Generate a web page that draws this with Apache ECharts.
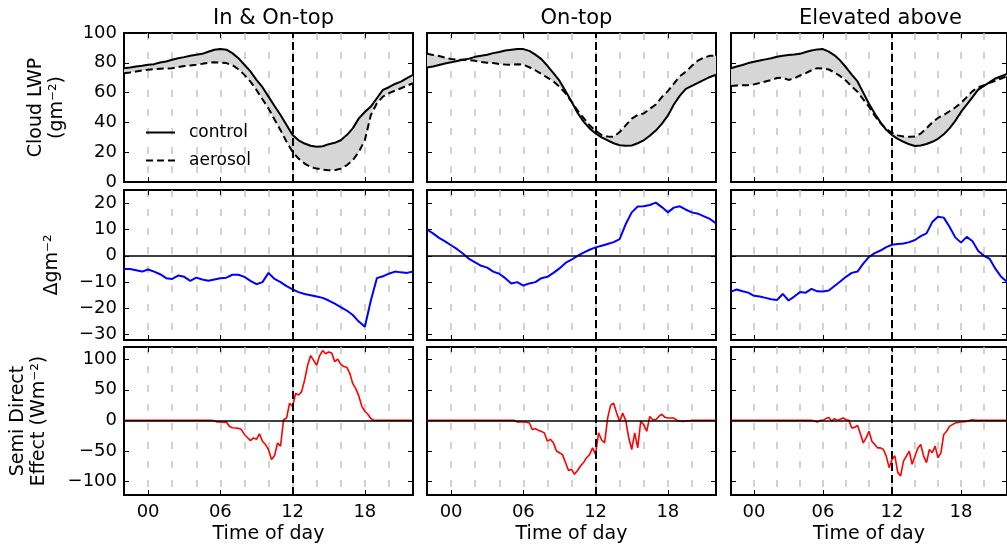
<!DOCTYPE html>
<html>
<head>
<meta charset="utf-8">
<script src="https://cdn.jsdelivr.net/npm/echarts@6/dist/echarts.min.js"></script>
<style>
html, body { margin: 0; padding: 0; background: #fff; }
#chart { width: 1007px; height: 550px; }
</style>
</head>
<body>
<div id="chart"></div>
<script>
// ---- data ----
var titles = ['In & On-top', 'On-top', 'Elevated above'];
var hourTicks = [0, 6, 12, 18];
var lwpTicks = [0, 20, 40, 60, 80, 100];
var deltaTicks = [-30, -20, -10, 0, 10, 20];
var sdeTicks = [-100, -50, 0, 50, 100];

var hours = [-2, -1.5, -1, -0.5, 0, 0.5, 1, 1.5, 2, 2.5, 3, 3.5, 4, 4.5, 5, 5.5, 6, 6.5, 7, 7.5,
	8, 8.5, 9, 9.5, 10, 10.5, 11, 11.5, 12, 12.5, 13, 13.5, 14, 14.5, 15, 15.5, 16, 16.5, 17, 17.5,
	18, 18.5, 19, 19.5, 20, 20.5, 21, 21.5, 22];

var lwpControlIn = [76.4, 76.9, 77.5, 78, 78.7, 79.1, 80.2, 80.9, 82, 83.1, 83.8, 84.7, 85.4, 86, 87.4, 88.8, 89.2, 88.8, 86.5, 83.1,
	78.7, 74.2, 68.5, 63.6, 57.3, 51, 45, 38.2, 31.5, 28, 25.8, 24.3, 23.6, 24, 25.4, 26.3, 28, 31.5, 36, 42.7,
	47, 50.6, 56.2, 61.8, 63.6, 65.8, 67.4, 69.7, 71.9];
var lwpAerosolIn = [73, 73.5, 74.2, 74.8, 75.3, 75.7, 76, 76.2, 76.4, 77.1, 77.8, 78.2, 78.7, 79.3, 80, 80.4, 80.2, 79.8, 78.4, 75.7,
	71.9, 67.4, 61.8, 55.5, 49.4, 42, 34.8, 27, 20.2, 15.7, 12.4, 10.1, 9, 8.3, 7.9, 7.9, 9, 11.2, 14.6, 20.2,
	28, 45, 52.8, 57.3, 59.6, 61.3, 62.9, 64.7, 66.3];
var lwpControlOn = [76.9, 77.5, 78.5, 79.5, 80.3, 81.2, 82, 82.8, 84, 84.8, 85.4, 86.5, 87.3, 88.3, 88.8, 89.3, 89.2, 88, 85.5, 82.5,
	78, 73, 68, 61, 54, 46.5, 40.5, 36, 32.6, 30, 28, 26, 24.7, 24.3, 24.5, 26, 28, 31, 34.5, 39,
	44.5, 52, 58, 62.5, 64.5, 66.5, 68.5, 70.5, 72];
var lwpAerosolOn = [86, 85.3, 84.5, 83.5, 82.5, 82, 82, 81.8, 81.3, 80.5, 80, 79.8, 79.2, 78.8, 78.7, 79, 78.7, 77, 75, 72.5,
	70, 67.5, 64, 59.5, 54, 48, 43, 38, 34.5, 31.5, 30.5, 30.3, 33.5, 38, 42.5, 45, 46, 49, 52, 57,
	61, 66, 71, 74, 78, 81.5, 83.5, 84.7, 84.7];
var lwpControlAbove = [76.4, 77.5, 78.5, 79.8, 80.7, 81.5, 82.3, 83, 84, 84.8, 85.2, 85.5, 86, 87.2, 88.3, 89, 89.2, 87.5, 85, 81.5,
	77, 72, 67.5, 60, 52.5, 46, 40, 35, 31.5, 29, 27, 25.3, 24.2, 24.5, 25.5, 27, 29, 32, 36, 41,
	47, 52, 57, 62, 64.5, 67, 69.5, 71, 72.5];
var lwpAerosolAbove = [64.5, 64.8, 65, 65, 65.5, 66.5, 67.5, 68.5, 69.8, 70, 68.5, 69.5, 71.5, 73, 75, 76.4, 76.2, 75.5, 73.5, 71,
	68, 64, 60.5, 55.5, 50.5, 44.5, 39.5, 35.5, 33, 31.3, 30.5, 30.3, 30.5, 32.5, 36, 40, 43, 45, 47.5, 50,
	53, 57, 61, 63.5, 65, 66.5, 68, 69.5, 71];

var deltaIn = [-5, -5, -5.5, -6, -5.2, -6, -7, -8.5, -8.8, -7.5, -8, -9.5, -8.3, -9, -9.5, -9, -8.5, -8.3, -7.2, -7.2,
	-8, -9.5, -10.8, -10, -6.5, -8.8, -10, -11.5, -12.8, -13.8, -14.5, -15, -15.5, -16, -17, -18.2, -19.5, -20.8, -22.5, -25,
	-27, -17, -8.5, -7.8, -6.8, -6, -6.3, -6.5, -6];
var deltaOn = [10, 8.5, 6.8, 5.5, 4, 2.5, 0.8, -1.2, -2.5, -3.8, -4.5, -6, -6.8, -8.5, -10.5, -10, -11.3, -10.5, -10, -8.5,
	-8, -6.5, -4.8, -2.7, -1.5, 0, 1.2, 2.3, 3.2, 3.8, 4.5, 5.2, 6.3, 12, 16.5, 18.7, 18.8, 19.3, 20.2, 18.5,
	16.5, 18.3, 18.8, 17.5, 16.5, 16, 15, 14, 12.3];
var deltaAbove = [-13.6, -12.8, -13.5, -14, -15.2, -15.5, -16, -16.5, -16.8, -14.5, -17, -15.5, -13.8, -14, -12.6, -13.5, -13.6, -13.2, -11.5, -9.8,
	-8, -6.5, -6, -3, -0.4, 1, 2, 3.3, 4.2, 4.5, 4.7, 5.2, 6, 7.5, 8.5, 12.8, 14.8, 14.5, 11, 7,
	5, 7.2, 5.5, 1.8, 0, -1.2, -5, -8, -10];

var sdeHours = [-2,
	5, 5.25, 5.5, 5.75, 6, 6.25, 6.5, 6.75, 7, 7.25, 7.5, 7.75, 8, 8.25, 8.5, 8.75,
	9, 9.25, 9.5, 9.75, 10, 10.25, 10.5, 10.75, 11, 11.25, 11.5, 11.75, 12, 12.25, 12.5, 12.75,
	13, 13.25, 13.5, 13.75, 14, 14.25, 14.5, 14.75, 15, 15.25, 15.5, 15.75, 16, 16.25, 16.5, 16.75,
	17, 17.25, 17.5, 17.75, 18, 18.25, 18.5, 18.75, 19, 19.25, 19.5, 19.75, 20,
	22];
var sdeIn = [0,
	0, 0, -0.5, -2.7, -2.5, -3, -2.7, -9.7, -12, -12.5, -13, -15, -23, -28, -33, -28.6,
	-31, -22, -34, -39.5, -47.6, -64, -58, -37, -42, 1, 3.8, 28, 22.7, 44, 41.6, 47,
	66, 90, 106, 98, 90, 106, 114, 109, 112, 110, 96, 100, 92, 88, 87, 77,
	60, 52, 40, 23, 15, 10, 3, 0, 0, 0, 0, 0, 0,
	0];
var sdeOn = [0,
	0, 0, -2.5, -2.7, -2.7, -3, -4.3, -15, -13.5, -16, -18, -20.5, -34, -31, -36.8, -50,
	-53, -56, -69, -82, -80, -88, -82, -74.6, -69, -61, -56, -45, -55.7, -20.5, -32, -36.8,
	3.8, 25, 28, 12, -1.6, 11.9, 0, -28, -47.6, -20.5, -45, -1.6, -7, -17.8, 6.5, 1,
	1, 6.5, 10, 5, 4, 3.8, 3.8, 0, -1, -1.6, -1, -0.5, 0,
	0];
var sdeAbove = [0,
	0, -1, -2.7, 0, 0, 3, 4.9, -1, 3, 0, 2, 4, 1, 0, -12.4, -11.4,
	-8, -22, -36.8, -28.6, -17.8, -34, -39.5, -45, -45, -47.6, -58.4, -77.3, -63.8, -58, -85, -90.8,
	-66.5, -58.4, -50.3, -71.9, -58.4, -45, -39.5, -58.4, -69, -47.6, -53, -42, -61, -53, -23, -17.8,
	-9.7, -7, -4.3, -3.5, -2.7, -2, -1.6, 0, 1, 0, 0, 0, 0,
	0];

var lwpControl = [lwpControlIn, lwpControlOn, lwpControlAbove];
var lwpAerosol = [lwpAerosolIn, lwpAerosolOn, lwpAerosolAbove];
var delta = [deltaIn, deltaOn, deltaAbove];
var sde = [sdeIn, sdeOn, sdeAbove];

// ---- layout ----
var FONT = 'DejaVu Sans';
var colLeft = [124, 427, 731];
var colWidth = 289;
var rowTop = [33, 190, 347];
var rowHeight = [149, 150, 148];
var rowMin = [0, -32, -122];
var rowMax = [100, 25, 120];
var rowTicks = [lwpTicks, deltaTicks, sdeTicks];
var rowNames = ['Cloud LWP\n(gm\u207b\u00b2)', '\u0394gm\u207b\u00b2', 'Semi Direct\nEffect (Wm\u207b\u00b2)'];
var rowNameGap = [56, 61, 74];

var chart = echarts.init(document.getElementById('chart'));

function fmtNum(v) { return v < 0 ? '\u2212' + (-v) : String(v); }
function fmtHour(v) { return (v < 10 ? '0' : '') + v; }
function pairs(xs, ys) {
	return xs.map(function (x, i) { return [x, ys[i]]; });
}
function bandRenderer(upper, lower) {
	return function (params, api) {
		var pts = [];
		var i;
		for (i = 0; i < hours.length; i++) pts.push(api.coord([hours[i], upper[i]]));
		for (i = hours.length - 1; i >= 0; i--) pts.push(api.coord([hours[i], lower[i]]));
		return { type: 'polygon', shape: { points: pts }, style: { fill: '#d6d6d6' } };
	};
}
function marks(withZero) {
	var d = [{ xAxis: 12, lineStyle: { color: '#000', width: 2, type: [8, 4] } }];
	if (withZero) d.push({ yAxis: 0, lineStyle: { color: '#000', width: 1.5, type: 'solid' } });
	return { silent: true, symbol: 'none', label: { show: false }, animation: false, data: d };
}

var grid = [], xAxis = [], yAxis = [], series = [], title = [];
var noLine = { show: false, onZero: false };

for (var r = 0; r < 3; r++) {
	for (var c = 0; c < 3; c++) {
		var g = r * 3 + c;
		grid.push({
			left: colLeft[c], top: rowTop[r], width: colWidth, height: rowHeight[r],
			show: true, borderColor: '#000', borderWidth: 2, backgroundColor: 'transparent'
		});
		// dashed grey lines every 2 h
		xAxis.push({
			type: 'value', gridIndex: g, min: -2, max: 22, interval: 2,
			axisLine: noLine, axisTick: { show: false }, axisLabel: { show: false },
			splitLine: { show: true, showMinLine: false, showMaxLine: false,
				lineStyle: { color: '#c4c4c4', width: 1.5, type: [7, 12] } }
		});
		xAxis.push({
			type: 'value', gridIndex: g, min: -2, max: 22, position: 'bottom',
			axisLine: noLine, splitLine: { show: false },
			axisTick: { show: true, inside: true, length: 5, customValues: hourTicks, lineStyle: { color: '#000' } },
			axisLabel: { show: r === 2, customValues: hourTicks, formatter: fmtHour, margin: 8,
				color: '#000', fontFamily: FONT, fontSize: 18 },
			name: r === 2 ? 'Time of day' : '', nameLocation: 'middle', nameGap: 30,
			nameTextStyle: { color: '#000', fontFamily: FONT, fontSize: 19 }
		});
		xAxis.push({
			type: 'value', gridIndex: g, min: -2, max: 22, position: 'top',
			axisLine: noLine, splitLine: { show: false }, axisLabel: { show: false },
			axisTick: { show: true, inside: true, length: 5, customValues: hourTicks, lineStyle: { color: '#000' } }
		});
		yAxis.push({
			type: 'value', gridIndex: g, min: rowMin[r], max: rowMax[r], position: 'left',
			axisLine: noLine, splitLine: { show: false },
			axisTick: { show: true, inside: true, length: 5, customValues: rowTicks[r], lineStyle: { color: '#000' } },
			axisLabel: { show: c === 0, customValues: rowTicks[r], formatter: fmtNum, margin: 7,
				color: '#000', fontFamily: FONT, fontSize: 18 },
			name: c === 0 ? rowNames[r] : '', nameLocation: 'middle', nameRotate: 90, nameGap: rowNameGap[r],
			nameTextStyle: { color: '#000', fontFamily: FONT, fontSize: 19, lineHeight: 21, align: 'center' }
		});
		yAxis.push({
			type: 'value', gridIndex: g, min: rowMin[r], max: rowMax[r], position: 'right',
			axisLine: noLine, splitLine: { show: false }, axisLabel: { show: false },
			axisTick: { show: true, inside: true, length: 5, customValues: rowTicks[r], lineStyle: { color: '#000' } }
		});

		var xi = g * 3 + 1, yi = g * 2;
		if (r === 0) {
			series.push({
				type: 'custom', xAxisIndex: xi, yAxisIndex: yi, silent: true, z: 1,
				renderItem: bandRenderer(lwpControl[c], lwpAerosol[c]),
				data: [[hours[0], lwpControl[c][0]]]
			});
			series.push({
				name: 'control', type: 'line', xAxisIndex: xi, yAxisIndex: yi, z: 3,
				symbol: 'none', data: pairs(hours, lwpControl[c]),
				lineStyle: { color: '#000', width: 2 }, itemStyle: { color: '#000' }
			});
			series.push({
				name: 'aerosol', type: 'line', xAxisIndex: xi, yAxisIndex: yi, z: 3,
				symbol: 'none', data: pairs(hours, lwpAerosol[c]),
				lineStyle: { color: '#000', width: 2, type: [7, 4] }, itemStyle: { color: '#000' },
				markLine: marks(false)
			});
		} else if (r === 1) {
			series.push({
				type: 'line', xAxisIndex: xi, yAxisIndex: yi, z: 3,
				symbol: 'none', data: pairs(hours, delta[c]),
				lineStyle: { color: '#0000ff', width: 2 },
				markLine: marks(true)
			});
		} else {
			series.push({
				type: 'line', xAxisIndex: xi, yAxisIndex: yi, z: 3,
				symbol: 'none', data: pairs(sdeHours, sde[c]),
				lineStyle: { color: '#ff0000', width: 1.6 },
				markLine: marks(true)
			});
		}
	}
	if (r === 0) {
		for (var t = 0; t < 3; t++) {
			title.push({
				text: titles[t], left: colLeft[t] + colWidth / 2, top: 3, textAlign: 'center',
				textStyle: { color: '#000', fontFamily: FONT, fontSize: 21, fontWeight: 'normal' }
			});
		}
	}
}

chart.setOption({
	animation: false,
	backgroundColor: '#fff',
	title: title,
	legend: {
		data: ['control', 'aerosol'], orient: 'vertical', left: 140, top: 119,
		itemWidth: 29, itemHeight: 14, itemGap: 11, selectedMode: false,
		itemStyle: { opacity: 0 },
		textStyle: { color: '#000', fontFamily: FONT, fontSize: 17, padding: [0, 0, 0, 9] }
	},
	grid: grid,
	xAxis: xAxis,
	yAxis: yAxis,
	series: series
});
</script>
</body>
</html>
